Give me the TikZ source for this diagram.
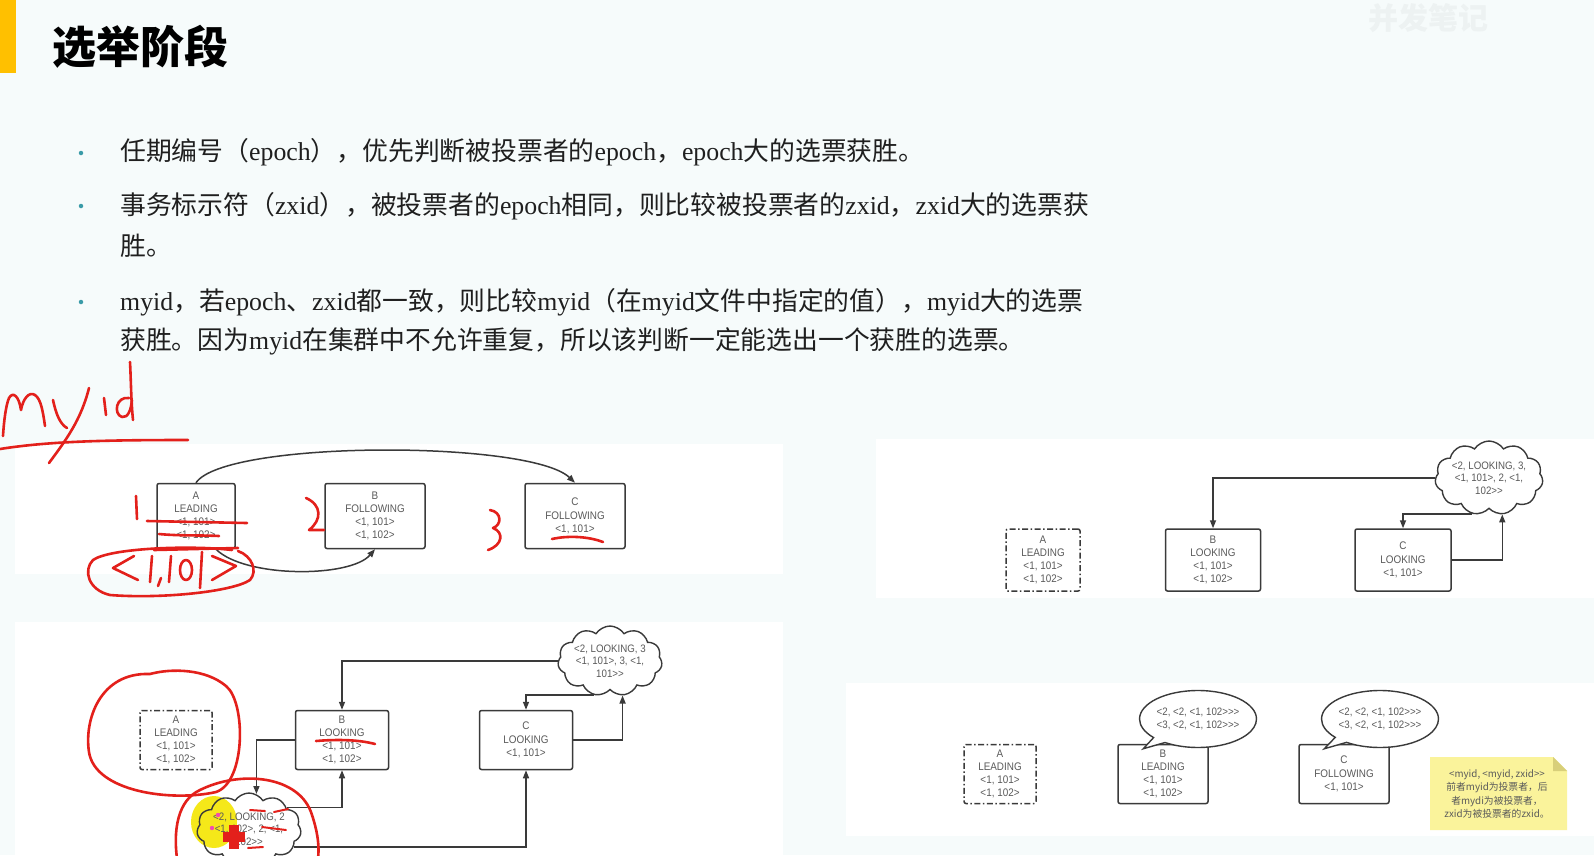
\documentclass[tikz,border=0pt]{standalone}
\usepackage{fontspec}
\setmainfont{Liberation Serif}
\newfontfamily\cjk{Noto Sans CJK SC}
\newfontfamily\boxfont[FakeStretch=0.9]{Liberation Sans}
\usetikzlibrary{shapes.symbols,shapes.callouts,arrows.meta,calc}
\definecolor{bg}{HTML}{F6FBFB}
\definecolor{boxline}{HTML}{3A3A3A}
\definecolor{boxtext}{HTML}{5A5A5A}
\definecolor{handred}{HTML}{E3201B}
\definecolor{titlebar}{HTML}{FFC000}
\definecolor{bullet}{HTML}{3A9BA8}
\definecolor{note}{HTML}{FAF39B}
\definecolor{notefold}{HTML}{D8CF7A}
\definecolor{hilite}{HTML}{F4E600}
\definecolor{wm}{HTML}{EDF2F2}
\newcommand\E[1]{{\rmfamily #1}}
\begin{document}
\begin{tikzpicture}[x=1pt,y=-1pt,
  box/.style={draw=boxline, line width=1.5pt, rounded corners=2pt, fill=white, inner sep=0pt,
    align=center, text=boxtext, font=\boxfont\fontsize{11}{13.2}\selectfont},
  dbox/.style={box, dash pattern=on 6pt off 2.5pt on 1.5pt off 2.5pt},
  cloudn/.style={cloud, cloud puffs=11, cloud puff arc=115, cloud ignores aspect, draw=boxline,
    line width=1.4pt, fill=white, inner sep=0pt, align=center, text=boxtext,
    font=\boxfont\fontsize{10.8}{12.5}\selectfont},
  calln/.style={ellipse callout, draw=boxline, line width=1.4pt, fill=white, inner sep=0pt,
    align=center, text=boxtext, font=\boxfont\fontsize{10.8}{13.2}\selectfont,
    minimum width=116pt, minimum height=57pt},
  conn/.style={draw=boxline, line width=1.5pt, -{Triangle[length=8pt,width=6pt]}},
  hand/.style={draw=handred, line width=2.6pt, line cap=round, line join=round},
  body/.style={anchor=west, inner sep=0pt, text=black!88, font=\cjk\fontsize{25.8}{30}\selectfont},
  dot/.style={circle, fill=bullet, inner sep=0pt, minimum size=4.5pt}
]
\useasboundingbox (0,0) rectangle (1594,855);
\fill[bg] (0,0) rectangle (1594,855);
\begin{scope}
\clip (0,0) rectangle (1594,855);
% title
\fill[titlebar] (0,0) rectangle (16,73);
\node[anchor=west, inner sep=0pt, font=\cjk\bfseries\fontsize{44}{48}\selectfont] (title) at (52,47) {选举阶段};
\node[anchor=west, inner sep=0pt, text=wm, font=\cjk\bfseries\fontsize{30}{32}\selectfont] (wmark) at (1368,18) {并发笔记};
% bullets
\node[dot] (d1) at (81,153) {};
\node[dot] (d2) at (81,206) {};
\node[dot] (d3) at (81,302) {};
\node[body] (l1) at (120,152) {任期编号（\E{epoch}），优先判断被投票者的\E{epoch}，\E{epoch}大的选票获胜。};
\node[body] (l2) at (120,206) {事务标示符（\E{zxid}），被投票者的\E{epoch}相同，则比较被投票者的\E{zxid}，\E{zxid}大的选票获};
\node[body] (l3) at (120,246) {胜。};
\node[body] (l4) at (120,302) {\E{myid}，若\E{epoch}、\E{zxid}都一致，则比较\E{myid}（在\E{myid}文件中指定的值），\E{myid}大的选票};
\node[body] (l5) at (120,341) {获胜。因为\E{myid}在集群中不允许重复，所以该判断一定能选出一个获胜的选票。};
% panels
\fill[white] (15,444) rectangle (783,574);
\fill[white] (876,439) rectangle (1594,598);
\fill[white] (15,622) rectangle (783,855);
\fill[white] (846,683) rectangle (1594,836);

% ---------- top-left panel
\node[box, minimum width=78pt, minimum height=65pt] (tlA) at (196,516) {A\\LEADING\\<1, 101>\\<1, 102>};
\node[box, minimum width=100pt, minimum height=65pt] (tlB) at (375,516) {B\\FOLLOWING\\<1, 101>\\<1, 102>};
\node[box, minimum width=100pt, minimum height=65pt] (tlC) at (575,516) {C\\FOLLOWING\\<1, 101>};
\draw[conn] (tlA.north) .. controls (225,440) and (530,440) .. (tlC.north);
\draw[conn] ([xshift=20pt]tlA.south) .. controls (245,578) and (350,578) .. (tlB.south);

% ---------- top-right panel
\node[dbox, minimum width=74pt, minimum height=62pt] (trA) at (1043,560) {A\\LEADING\\<1, 101>\\<1, 102>};
\node[box, minimum width=95pt, minimum height=62pt] (trB) at (1213,560) {B\\LOOKING\\<1, 101>\\<1, 102>};
\node[box, minimum width=96pt, minimum height=62pt] (trC) at (1403,560) {C\\LOOKING\\<1, 101>};
\node[cloudn, minimum width=98pt, minimum height=74pt] (trc) at (1489,478) {<2, LOOKING, 3,\\<1, 101>, 2, <1,\\102>>};
\draw[conn] (trc.west) -| (trB.north);
\draw[conn] (trc.245) -| (trC.north);
\draw[conn] (trC.east) -| (trc.290);

% ---------- bottom-left panel
\node[dbox, minimum width=72pt, minimum height=59pt] (blA) at (176,740) {A\\LEADING\\<1, 101>\\<1, 102>};
\node[box, minimum width=93pt, minimum height=59pt] (blB) at (342,740) {B\\LOOKING\\<1, 101>\\<1, 102>};
\node[box, minimum width=93pt, minimum height=59pt] (blC) at (526,740) {C\\LOOKING\\<1, 101>};
\node[cloudn, minimum width=96pt, minimum height=70pt] (blc) at (610,661) {<2, LOOKING, 3\\<1, 101>, 3, <1,\\101>>};
% bottom cloud: white body, cursor highlight, then outline + text
\node[cloudn, draw=none, minimum width=98pt, minimum height=72pt] (blc2bg) at (249,829) {};
\fill[hilite, fill opacity=0.9] (214,822) ellipse [x radius=23, y radius=26];
\node[cloudn, fill=none, minimum width=98pt, minimum height=72pt] (blc2) at (249,829) {<2, LOOKING, 2\\<1, 102>, 2, <1,\\102>>};
\draw[conn] (blc.west) -| (blB.north);
\draw[conn] (blc.245) -| (blC.north);
\draw[conn] (blC.east) -| (blc.290);
\draw[conn] (blB.west) -| (blc2.78);
\draw[conn] (blc2.30) -| (blB.south);
\draw[conn] (blc2.-22) -| (blC.south);

% ---------- bottom-right panel
\node[dbox, minimum width=72pt, minimum height=59pt] (brA) at (1000,774) {A\\LEADING\\<1, 101>\\<1, 102>};
\node[box, minimum width=90pt, minimum height=59pt] (brB) at (1163,774) {B\\LEADING\\<1, 101>\\<1, 102>};
\node[box, minimum width=90pt, minimum height=59pt] (brC) at (1344,774) {C\\FOLLOWING\\<1, 101>};
\node[calln, callout absolute pointer={($(brB.north west)+(26,5)$)}] (brBc) at (1198,719) {<2, <2, <1, 102>>>\\<3, <2, <1, 102>>>};
\node[calln, callout absolute pointer={($(brC.north west)+(26,5)$)}] (brCc) at (1380,719) {<2, <2, <1, 102>>>\\<3, <2, <1, 102>>>};
\fill[note] (1430,757) -- (1553,757) -- (1567,771) -- (1567,830) -- (1430,830) -- cycle;
\fill[notefold] (1553,757) -- (1553,771) -- (1567,771) -- cycle;
\node[inner sep=0pt, align=center, text=boxtext, font=\cjk\fontsize{9.8}{13.4}\selectfont] (notetext) at (1497,794)
  {<myid, <myid, zxid>>\\前者myid为投票者，后\\者mydi为被投票者，\\zxid为被投票者的zxid。};

% ---------- red handwriting
% "myid" + underline
\draw[hand] (3,436) .. controls (4,420) and (6,405) .. (9,398) .. controls (13,391) and (19,396) .. (21,410)
  .. controls (23,399) and (29,391) .. (35,395) .. controls (41,399) and (43,412) .. (45,426);
\draw[hand] (53,400) .. controls (56,414) and (60,424) .. (67,428);
\draw[hand] (89,388) .. controls (81,420) and (66,440) .. (49,463);
\draw[hand] (104,398) -- (106,415);
\draw[hand] (129,398) .. controls (116,396) and (113,414) .. (122,417) .. controls (128,418) and (131,410) .. (132,400);
\draw[hand] (130,362) .. controls (131,380) and (131,400) .. (133,420);
\draw[hand] (0,449) .. controls (50,441) and (110,440) .. (188,440);
% top-left marks
\draw[hand] (136,496) -- (137,519);
\draw[hand] (147,521) -- (247,523);
\draw[hand] (159,534) .. controls (180,536) and (200,535) .. (219,536);
\draw[hand] (154,550) -- (238,548);
\draw[hand] (232,550) .. controls (190,545) and (110,548) .. (93,560) .. controls (83,570) and (88,590) .. (110,595)
  .. controls (160,599) and (232,592) .. (250,580) .. controls (258,571) and (252,556) .. (238,551);
\draw[hand] (134,556) -- (113,568) -- (138,580);
\draw[hand] (152,556) -- (150,582);
\draw[hand] (161,578) -- (158,586);
\draw[hand] (171,556) -- (169,582);
\draw[hand] (186,570) ellipse [x radius=6, y radius=10];
\draw[hand] (202,552) -- (200,588);
\draw[hand] (212,556) -- (236,566) -- (212,580);
\draw[hand] (306,498) .. controls (322,505) and (322,520) .. (309,530) -- (324,530);
\draw[hand] (490,510) .. controls (502,512) and (502,525) .. (493,528) .. controls (504,532) and (503,545) .. (488,550);
\draw[hand] (552,539) .. controls (570,535) and (590,537) .. (603,542);
% bottom-left marks
\draw[hand] (150,674) .. controls (100,672) and (84,720) .. (89,752) .. controls (95,792) and (172,802) .. (216,792)
  .. controls (246,782) and (246,702) .. (226,686) .. controls (206,669) and (172,668) .. (150,674);
\draw[hand] (316,741) .. controls (340,739) and (360,740) .. (375,744);
\draw[hand] (200,790) .. controls (240,770) and (300,775) .. (312,815) .. controls (322,845) and (318,860) .. (316,870);
\draw[hand] (200,790) .. controls (178,800) and (172,830) .. (178,865);
\fill[handred] (223,832) rectangle (245,842);
\fill[handred] (229,825) rectangle (239,849);
\fill[magenta!70] (218,815) circle (2.2);
\fill[magenta!70] (212,828) circle (2.2);
\draw[hand, line width=2pt] (250,810) -- (265,811);
\draw[hand, line width=2pt] (274,812) -- (288,809);
\draw[hand, line width=2pt] (262,827) -- (286,830);
\draw[hand, line width=2pt] (248,848) -- (263,847);
\end{scope}
\end{tikzpicture}
\end{document}
